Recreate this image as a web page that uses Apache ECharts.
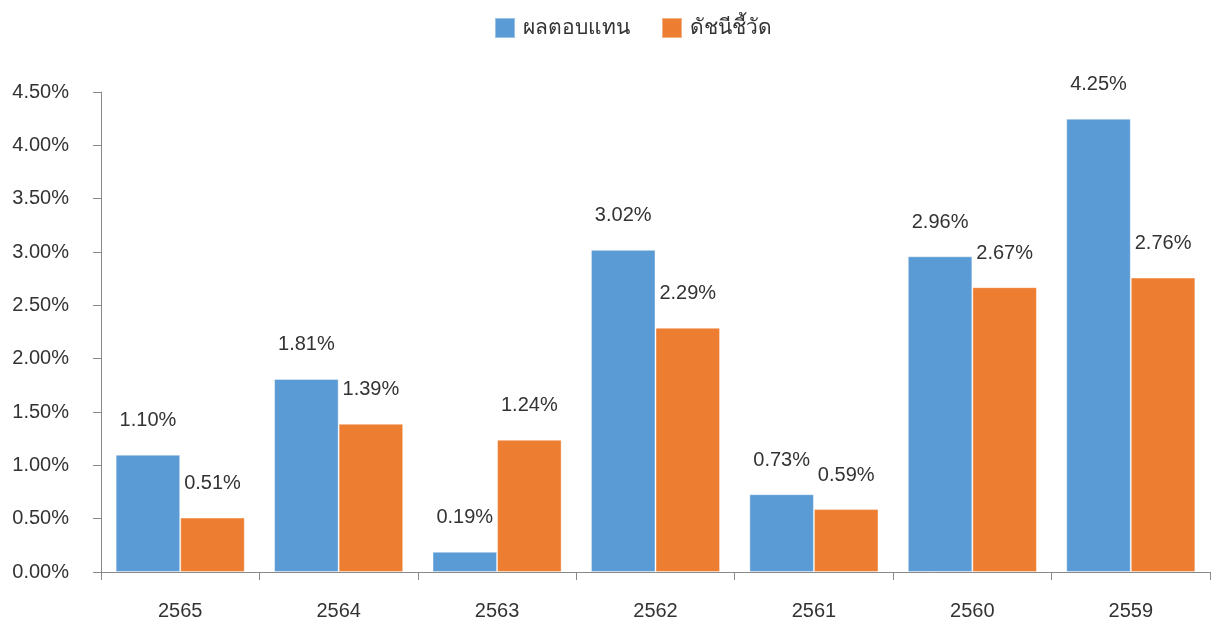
<!DOCTYPE html>
<html>
<head>
<meta charset="utf-8">
<script src="https://cdn.jsdelivr.net/npm/echarts@6/dist/echarts.min.js"></script>
<style>
  html, body { margin: 0; padding: 0; background: #fff; }
  #chart { width: 1212px; height: 625px; }
</style>
</head>
<body>
<div id="chart"></div>
<script>
// ข้อมูลผลตอบแทนรายปี
const years = ['2565', '2564', '2563', '2562', '2561', '2560', '2559'];
const fundReturn = [1.10, 1.81, 0.19, 3.02, 0.73, 2.96, 4.25];
const benchmark = [0.51, 1.39, 1.24, 2.29, 0.59, 2.67, 2.76];
const seriesNames = ['ผลตอบแทน', 'ดัชนีชี้วัด'];

const font = '"Liberation Sans", "Noto Sans", sans-serif';
const txt = '#333';

const chart = echarts.init(document.getElementById('chart'));

function barSeries(name, data, color) {
  return {
    name: name,
    type: 'bar',
    data: data,
    barGap: '0%',
    barCategoryGap: '18.5%',
    itemStyle: { color: color, borderColor: 'rgba(255,255,255,0.4)', borderWidth: 1 },
    label: {
      show: true,
      position: 'top',
      distance: 24,
      color: txt,
      fontFamily: font,
      fontSize: 20,
      formatter: p => p.value.toFixed(2) + '%'
    }
  };
}

chart.setOption({
  animation: false,
  textStyle: { fontFamily: font },
  legend: {
    top: 12,
    left: 489,
    itemWidth: 20,
    itemHeight: 20,
    itemGap: 31,
    icon: 'rect',
    textStyle: { fontSize: 21, color: txt, fontFamily: font, padding: [0, 0, 0, 3] },
    data: seriesNames
  },
  grid: { left: 101, right: 2, top: 92, bottom: 53 },
  xAxis: {
    type: 'category',
    data: years,
    axisLine: { lineStyle: { color: '#888', width: 1 } },
    axisTick: { show: true, length: 8, lineStyle: { color: '#888' } },
    axisLabel: { color: txt, fontSize: 20, margin: 29, fontFamily: font }
  },
  yAxis: {
    type: 'value',
    min: 0,
    max: 4.5,
    interval: 0.5,
    splitLine: { show: false },
    axisLine: { show: true, lineStyle: { color: '#888', width: 1 } },
    axisTick: { show: true, length: 8, lineStyle: { color: '#888' } },
    axisLabel: {
      color: txt,
      fontSize: 20,
      margin: 32,
      fontFamily: font,
      formatter: v => v.toFixed(2) + '%'
    }
  },
  series: [
    barSeries(seriesNames[0], fundReturn, '#5B9BD5'),
    barSeries(seriesNames[1], benchmark, '#ED7D31')
  ]
});
</script>
</body>
</html>
